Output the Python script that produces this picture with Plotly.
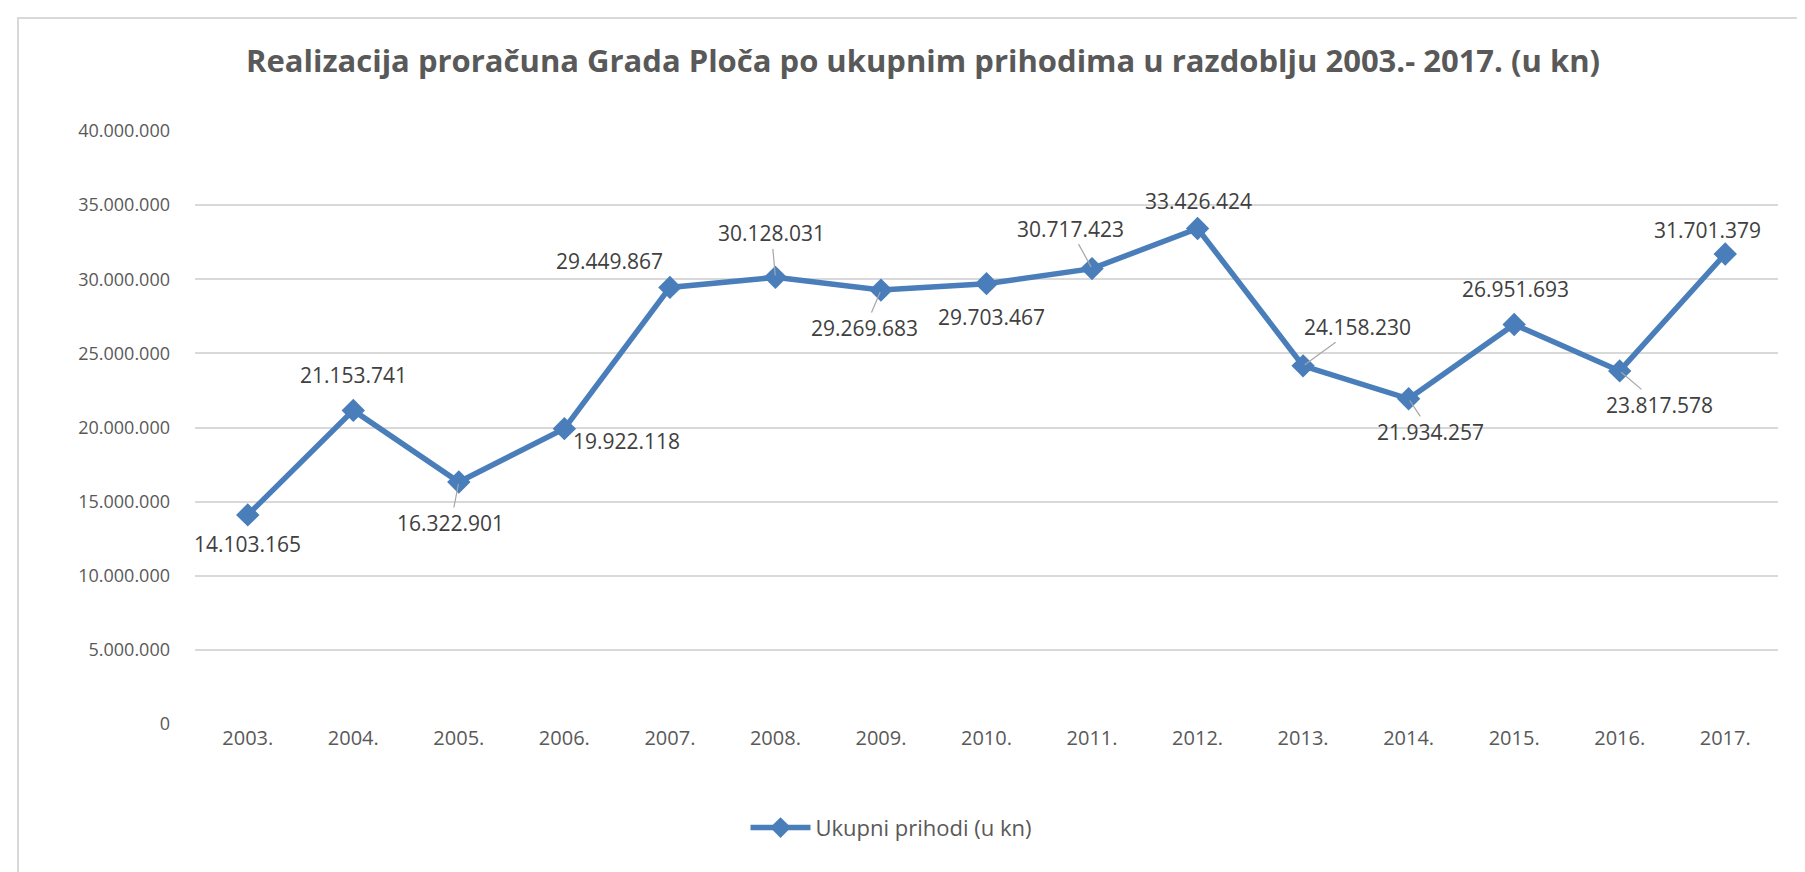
import plotly.graph_objects as go

years = ["2003.", "2004.", "2005.", "2006.", "2007.", "2008.", "2009.", "2010.",
         "2011.", "2012.", "2013.", "2014.", "2015.", "2016.", "2017."]
values = [14103165, 21153741, 16322901, 19922118, 29449867, 30128031, 29269683, 29703467,
          30717423, 33426424, 24158230, 21934257, 26951693, 23817578, 31701379]
label_texts = ["14.103.165", "21.153.741", "16.322.901", "19.922.118", "29.449.867",
               "30.128.031", "29.269.683", "29.703.467", "30.717.423", "33.426.424",
               "24.158.230", "21.934.257", "26.951.693", "23.817.578", "31.701.379"]
tick_vals = [0, 5000000, 10000000, 15000000, 20000000, 25000000, 30000000, 35000000, 40000000]
tick_text = ["0", "5.000.000", "10.000.000", "15.000.000", "20.000.000", "25.000.000",
             "30.000.000", "35.000.000", "40.000.000"]

# label placement (pixel offsets of text centre from the point) and leader-line flag
label_dx = [0, 0, -8, 62, -60, -4, -16, 5, -22, 1, 54, 22, 1, 40, -18]
label_dy = [29, -35, 41, 12, -26, -44, 38, 33, -40, -27, -39, 33, -35, 34, -24]
leader = [False, False, True, False, False, True, True, False, True, False, True, True, False, True, False]

BLUE = "#4a7ebb"
GRAY = "#595959"

xpos = list(range(len(years)))

fig = go.Figure()
fig.add_trace(go.Scatter(
    x=xpos, y=values, mode="lines+markers", name="Ukupni prihodi (u kn)",
    line=dict(color=BLUE, width=5.5),
    marker=dict(symbol="diamond", size=18, color=BLUE),
))

LABEL_FONT = dict(family="Open Sans", size=21, color="#404040")
for x, y, t, dx, dy, ld in zip(xpos, values, label_texts, label_dx, label_dy, leader):
    if ld:
        fig.add_annotation(x=x, y=y, text=t, showarrow=True, ax=dx, ay=dy,
                           arrowhead=0, arrowwidth=1.2, arrowcolor="#a6a6a6",
                           standoff=2, font=LABEL_FONT)
    else:
        fig.add_annotation(x=x, y=y, text=t, showarrow=False, xshift=dx, yshift=-dy,
                           font=LABEL_FONT)

fig.add_shape(type="rect", xref="paper", yref="paper",
              x0=(10 - 187) / 1583, x1=(1812 - 187) / 1583,
              y0=(716 - 885) / 593, y1=(716 - 10) / 593,
              line=dict(color="#d9d9d9", width=2), fillcolor="rgba(0,0,0,0)", layer="below")

fig.update_layout(
    width=1805, height=872,
    margin=dict(l=187, r=35, t=123, b=156),
    paper_bgcolor="white", plot_bgcolor="white",
    title=dict(text="<b>Realizacija proračuna Grada Ploča po ukupnim prihodima u razdoblju 2003.- 2017. (u kn)</b>",
               x=915 / 1805, xanchor="center", y=1 - 53 / 872, yanchor="middle",
               font=dict(family="Open Sans", size=31, color=GRAY)),
    showlegend=True,
    legend=dict(orientation="h", x=0.44, xanchor="center", y=-0.175, yanchor="middle",
                font=dict(family="Open Sans", size=22, color=GRAY), itemwidth=60),
    xaxis=dict(range=[-0.5, len(years) - 0.5], tickvals=xpos, ticktext=years,
               showgrid=False, showline=False, ticks="", zeroline=False, automargin=False,
               tickfont=dict(family="Open Sans", size=20, color=GRAY)),
    yaxis=dict(range=[0, 40000000], tickvals=tick_vals, ticktext=tick_text,
               showgrid=True, gridcolor="#d9d9d9", gridwidth=2, zeroline=False,
               showline=False, ticks="", ticklabelstandoff=24, automargin=False,
               tickfont=dict(family="Open Sans", size=18, color=GRAY)),
)

fig.write_html("out.html")
